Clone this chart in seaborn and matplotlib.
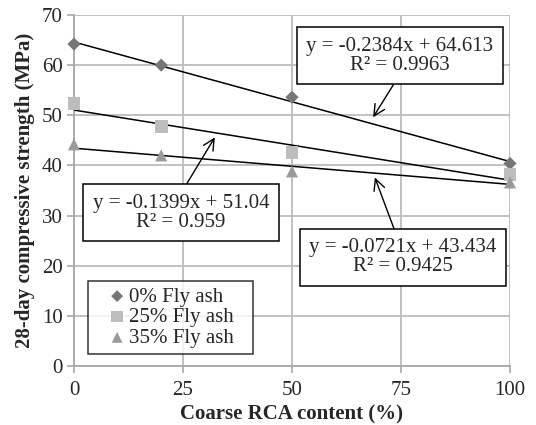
import matplotlib
matplotlib.use("Agg")
import matplotlib.pyplot as plt
import seaborn as sns
import pandas as pd

rca = [0, 20, 50, 100]
fa0 = [64.2, 60.0, 53.6, 40.4]
fa25 = [52.4, 47.8, 42.6, 38.2]
fa35 = [44.2, 42.0, 38.8, 36.6]
series_names = ["0% Fly ash", "25% Fly ash", "35% Fly ash"]
slopes = [-0.2384, -0.1399, -0.0721]
intercepts = [64.613, 51.04, 43.434]
r2 = ["0.9963", "0.959", "0.9425"]
x_ticks = [0, 25, 50, 75, 100]
y_ticks = [0, 10, 20, 30, 40, 50, 60, 70]

sns.set_style("white")
plt.rcParams["font.family"] = ["Liberation Serif", "DejaVu Serif"]

FS = 15

fig = plt.figure(figsize=(5.36, 4.25), dpi=100)
ax = fig.add_axes([74 / 536, 59 / 425, 436 / 536, 351 / 425])

df = pd.DataFrame({
    "x": rca * 3,
    "y": fa0 + fa25 + fa35,
    "s": [series_names[0]] * 4 + [series_names[1]] * 4 + [series_names[2]] * 4,
})
colors = ["#767676", "#bdbdbd", "#9a9a9a"]
markers = ["D", "s", "^"]
sizes = [45, 85, 75]
for name, c, m, sz in zip(series_names, colors, markers, sizes):
    sub = df[df["s"] == name]
    sns.scatterplot(data=sub, x="x", y="y", ax=ax, color=c, marker=m, s=sz,
                    edgecolor="none", label=name, zorder=4, clip_on=False)

for a, b in zip(slopes, intercepts):
    xs = [0, 100]
    ys = [a * v + b for v in xs]
    sns.lineplot(x=xs, y=ys, ax=ax, color="black", lw=1.1, zorder=3)

ax.set_xlim(0, 100)
ax.set_ylim(0, 70)
ax.set_xticks(x_ticks)
ax.set_yticks(y_ticks)
ax.grid(True, color="#bcbcbc", lw=1.3)
ax.set_axisbelow(True)
for sp in ["top", "right"]:
    ax.spines[sp].set_visible(False)
for sp in ["left", "bottom"]:
    ax.spines[sp].set_color("#a8a8a8")
    ax.spines[sp].set_linewidth(1.3)
ax.tick_params(axis="y", pad=3)
ax.tick_params(axis="x", pad=6)
ax.tick_params(axis="both", labelsize=FS, length=5, width=1.2, color="#a8a8a8",
               direction="out", left=True, bottom=True)
ax.set_xlabel("Coarse RCA content (%)", fontsize=FS, fontweight="bold", labelpad=3)
ax.set_ylabel("28-day compressive strength (MPa)", fontsize=FS, fontweight="bold", labelpad=5)

def eq_text(a, b, r):
    return "y = %sx + %s\nR² = %s" % (a, b, r)

boxes = [
    (eq_text("-0.2384", "64.613", r2[0]), (74.7, 61.9), (68.6, 49.6), (0.5, 0.0)),
    (eq_text("-0.1399", "51.04", r2[1]), (24.5, 30.6), (32.3, 45.6), (0.5, 1.0)),
    (eq_text("-0.0721", "43.434", r2[2]), (75.5, 21.7), (69.0, 37.6), (0.47, 1.0)),
]
for txt, pos, tgt, rp in boxes:
    ax.annotate(txt, xy=tgt, xytext=pos, textcoords="data", fontsize=FS,
                ha="center", va="center", multialignment="center", linespacing=1.0,
                bbox=dict(boxstyle="square,pad=0.45", fc="white", ec="black", lw=1.1),
                arrowprops=dict(arrowstyle="->", color="black", lw=1.0,
                                mutation_scale=20, relpos=rp, shrinkA=0, shrinkB=0),
                zorder=6)

leg = ax.legend(loc="lower left", bbox_to_anchor=(0.032, 0.034, 165 / 436, 0.2),
                mode="expand", borderaxespad=0,
                fontsize=FS, frameon=True, fancybox=False, edgecolor="black",
                handletextpad=-0.55, handlelength=2.2, labelspacing=0.05,
                borderpad=0.3, markerscale=0.9)
leg.get_frame().set_linewidth(1.1)
leg.set_zorder(7)

fig.savefig("out.png", dpi=100)
